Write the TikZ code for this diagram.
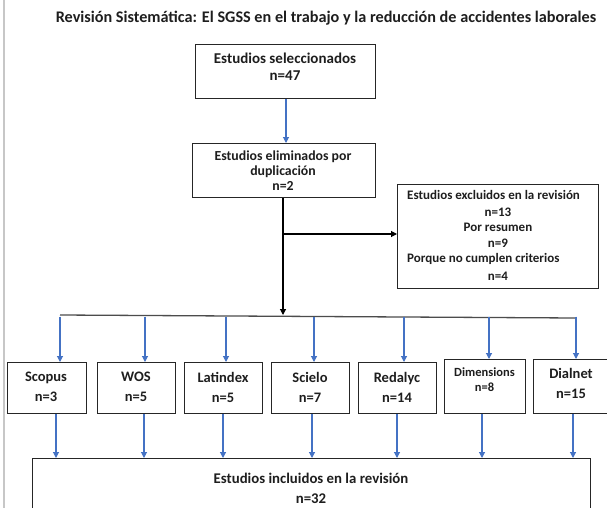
\documentclass[tikz,border=0pt]{standalone}
\usepackage{fontspec}
\setmainfont{Carlito}
\usetikzlibrary{arrows.meta}
\definecolor{arrblue}{HTML}{4472C4}
\definecolor{txt}{HTML}{1E1E1E}
\begin{document}
\begin{tikzpicture}[x=1pt,y=-1pt,
  box/.style={draw=black!85, line width=1.2pt, inner sep=0pt, anchor=north west, fill=white},
  lbl/.style={font=\bfseries\fontsize{14.5}{20}\selectfont, text=txt, align=center, inner sep=0pt},
  exl/.style={font=\bfseries\fontsize{13}{16}\selectfont, text=txt, align=center, inner sep=0pt},
  small/.style={font=\bfseries\fontsize{12.5}{15}\selectfont, text=txt, align=center, inner sep=0pt},
  barrow/.style={draw=arrblue, line width=1.1pt, -{Triangle[width=6pt,length=6pt]}},
  karrow/.style={draw=black, line width=1.1pt, -{Triangle[width=6pt,length=6pt]}},
  hline/.style={draw=black!70, line width=1.3pt},
  edge/.style={draw=black!22, line width=1.5pt}
]
\useasboundingbox (0,0) rectangle (607,508);
\clip (0,0) rectangle (607,508);
\fill[white] (0,0) rectangle (607,508);
\draw[edge] (4,0) -- (4,508);

% title
\node[lbl, font=\bfseries\fontsize{16.2}{20}\selectfont] (title) at (326,18) {Revisión Sistemática: El SGSS en el trabajo y la reducción de accidentes laborales};

% box 1
\node[box, minimum width=180pt, minimum height=54pt] (b1) at (195,44) {};
\node[lbl, font=\bfseries\fontsize{15}{17}\selectfont] (t1) at (285,66.5) {Estudios seleccionados\\n=47};

% box 2
\node[box, minimum width=183pt, minimum height=54pt] (b2) at (192,143) {};
\node[lbl, font=\bfseries\fontsize{13.8}{15}\selectfont] (t2) at (283,170.5) {Estudios eliminados por\\duplicación\\n=2};

% box 3
\node[box, minimum width=201pt, minimum height=104pt] (b3) at (397,184) {};
\node[exl, anchor=west] (t3a) at (407,195) {Estudios excluidos en la revisión};
\node[exl] (t3b) at (498,212) {n=13};
\node[exl] (t3c) at (498,227) {Por resumen};
\node[exl] (t3d) at (498,243) {n=9};
\node[exl, anchor=west] (t3e) at (407,259) {Porque no cumplen criterios};
\node[exl] (t3f) at (498,276) {n=4};

% arrows top
\draw[barrow] (b1.south -| 286,0) -- (b2.north -| 286,0);
\coordinate (j) at (283,234);
\coordinate (hb) at (283,315);
\draw[karrow] (b2.south -| hb) -- (hb);
\draw[karrow] (j) -- (j -| b3.west);

% distribution line
\coordinate (hl) at (60,315);
\coordinate (hr) at (576,318);
\draw[hline] (hl) -- (hr);

% row of source boxes
\node[box, minimum width=79pt, minimum height=51pt] (s1) at (7,362) {};
\node[lbl] (u1) at (46,387) {Scopus\\n=3};
\node[box, minimum width=78pt, minimum height=51pt] (s2) at (97,362) {};
\node[lbl] (u2) at (136,387) {WOS\\n=5};
\node[box, minimum width=78pt, minimum height=51pt] (s3) at (184,362) {};
\node[lbl] (u3) at (223,387) {Latindex\\n=5};
\node[box, minimum width=78pt, minimum height=51pt] (s4) at (271,362) {};
\node[lbl] (u4) at (310,387) {Scielo\\n=7};
\node[box, minimum width=78pt, minimum height=51pt] (s5) at (358,362) {};
\node[lbl] (u5) at (397,387) {Redalyc\\n=14};
\node[box, minimum width=81pt, minimum height=54pt] (s6) at (444,359) {};
\node[small] (u6) at (484.5,379.5) {Dimensions\\n=8};
\node[box, minimum width=90pt, minimum height=54pt] (s7) at (533,359) {};
\node[lbl] (u7) at (571,383) {Dialnet\\n=15};

% arrows from distribution line to boxes
\foreach \xx/\bx in {60/s1,145/s2,226/s3,314/s4,404/s5,489/s6,576/s7}{
  \draw[barrow] (\xx,316.5) -- (\bx.north -| \xx,0);
}

% bottom box
\node[box, minimum width=558pt, minimum height=80pt] (bot) at (32,458) {};
\node[lbl, font=\bfseries\fontsize{14.8}{20}\selectfont] (tb) at (311,488.5) {Estudios incluidos en la revisión\\n=32};

% arrows from boxes to bottom
\foreach \xx/\bx in {56/s1,144/s2,223/s3,312/s4,397/s5,482/s6,573/s7}{
  \draw[barrow] (\bx.south -| \xx,0) -- (bot.north -| \xx,0);
}
\end{tikzpicture}
\end{document}
